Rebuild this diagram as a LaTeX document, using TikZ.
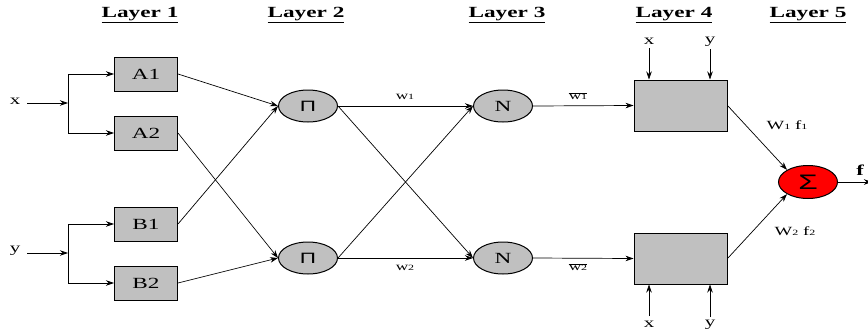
\documentclass[tikz,border=0pt]{standalone}
\usepackage{fontspec}
\setmainfont{Liberation Serif}
\newfontfamily\symfont{Liberation Sans}
\usetikzlibrary{arrows.meta,shapes.geometric}
\definecolor{boxgray}{HTML}{C0C0C0}
\definecolor{sumred}{HTML}{FF0000}
% horizontally widened text
\newcommand{\sx}[1]{\scalebox{1.5}[1]{#1}}
\newcommand{\heading}[1]{\underline{\sx{\bfseries #1}}}
\newcommand{\sub}[1]{{\fontsize{8}{8}\selectfont #1}}
\begin{document}
\begin{tikzpicture}[x=1pt,y=-1pt,
  box/.style={draw, fill=boxgray, minimum width=63pt, minimum height=34pt, inner sep=0pt, line width=1pt,
              font=\fontsize{15.5}{15.5}\selectfont},
  rulebox/.style={draw, fill=boxgray, minimum width=93pt, minimum height=51pt, inner sep=0pt, line width=1pt},
  oval/.style={ellipse, draw, fill=boxgray, minimum width=59pt, minimum height=32pt, inner sep=0pt, line width=1pt},
  arr/.style={-{Stealth[length=8pt,width=5.5pt]}, line width=0.7pt},
  lbl/.style={inner sep=0pt, font=\fontsize{14}{14}\selectfont},
  wlbl/.style={inner sep=0pt, font=\fontsize{11.5}{11.5}\selectfont},
  head/.style={inner sep=0pt, font=\fontsize{15.5}{15.5}\selectfont}]
\useasboundingbox (0,0) rectangle (868,335);

% layer headings
\node[head] (h1) at (140,15) {\heading{Layer 1}};
\node[head] (h2) at (306,15) {\heading{Layer 2}};
\node[head] (h3) at (507,15) {\heading{Layer 3}};
\node[head] (h4) at (674,15) {\heading{Layer 4}};
\node[head] (h5) at (808,15) {\heading{Layer 5}};

% layer 1: membership functions
\node[box] (A1) at (146,74)  {\sx{A1}};
\node[box] (A2) at (146,133) {\sx{A2}};
\node[box] (B1) at (146,224) {\sx{B1}};
\node[box] (B2) at (146,283) {\sx{B2}};

% inputs
\node[lbl] (xin) at (15,101) {\sx{x}};
\node[lbl] (yin) at (15,251) {\sx{y}};
\coordinate (jx) at (68,103);
\coordinate (jy) at (68,253);
\draw[arr, shorten <=7pt] (xin.east |- jx) -- (jx);
\draw[arr, shorten <=7pt] (yin.east |- jy) -- (jy);
\draw[arr] (jx) |- (A1.west);
\draw[arr] (jx) |- (A2.west);
\draw[arr] (jy) |- (B1.west);
\draw[arr] (jy) |- (B2.west);

% layer 2: product nodes
\node[oval] (P1) at (308,106) {\symfont\fontsize{15}{15}\selectfont\sx{Π}};
\node[oval] (P2) at (308,258) {\symfont\fontsize{15}{15}\selectfont\sx{Π}};

% layer 3: normalisation nodes
\node[oval] (N1) at (503,106) {\fontsize{15.5}{15.5}\selectfont\sx{N}};
\node[oval] (N2) at (503,258) {\fontsize{15.5}{15.5}\selectfont\sx{N}};

% layer 4: rule consequents
\node[rulebox] (R1) at (680.5,105.5) {};
\node[rulebox] (R2) at (680.5,258.5) {};

% layer 5: summation
\node[ellipse, draw, fill=sumred, minimum width=59pt, minimum height=33pt, inner sep=0pt, line width=1pt]
  (S) at (808,182) {\symfont\fontsize{21}{21}\selectfont\sx{Σ}};

% layer 1 -> layer 2
\draw[arr] (A1.east) -- (P1.west);
\draw[arr] (B1.east) -- (P1.west);
\draw[arr] (A2.east) -- (P2.west);
\draw[arr] (B2.east) -- (P2.west);

% layer 2 -> layer 3
\draw[arr] (P1.east) -- (N1.west);
\draw[arr] (P1.east) -- (N2.west);
\draw[arr] (P2.east) -- (N1.west);
\draw[arr] (P2.east) -- (N2.west);
\node[wlbl] (w1) at (405,97)  {\sx{w\sub{1}}};
\node[wlbl] (w2) at (405,268) {\sx{w\sub{2}}};

% layer 3 -> layer 4
\draw[arr] (N1.east) -- (R1.west);
\draw[arr] (N2.east) -- (R2.west);
\node[wlbl] (nw1) at (578,96)  {\sx{$\overline{\mbox{w\sub{1}}}$}};
\node[wlbl] (nw2) at (578,267) {\sx{$\overline{\mbox{w\sub{2}}}$}};

% inputs to layer 4
\node[lbl] (tx) at (649,41) {\sx{x}};
\node[lbl] (ty) at (710,42) {\sx{y}};
\node[lbl] (bx) at (649,324) {\sx{x}};
\node[lbl] (by) at (710,325) {\sx{y}};
\draw[arr, shorten <=7pt] (tx.center) -- (tx |- R1.north);
\draw[arr, shorten <=7pt] (ty.center) -- (ty |- R1.north);
\draw[arr, shorten <=8pt] (bx.center) -- (bx |- R2.south);
\draw[arr, shorten <=8pt] (by.center) -- (by |- R2.south);

% layer 4 -> layer 5
\draw[arr] (R1.east) -- (S.150);
\draw[arr] (R2.east) -- (S.210);
\node[inner sep=0pt, font=\fontsize{12.5}{12.5}\selectfont] (wf1) at (787,125) {\sx{W\sub{1} f\sub{1}}};
\node[inner sep=0pt, font=\fontsize{12.5}{12.5}\selectfont] (wf2) at (795,231) {\sx{W\sub{2} f\sub{2}}};

% output
\coordinate (fout) at (872,182);
\draw[arr] (S.east) -- (fout);
\node[inner sep=0pt, font=\fontsize{15}{15}\selectfont\bfseries] (f) at (860,170) {\sx{f}};
\end{tikzpicture}
\end{document}
